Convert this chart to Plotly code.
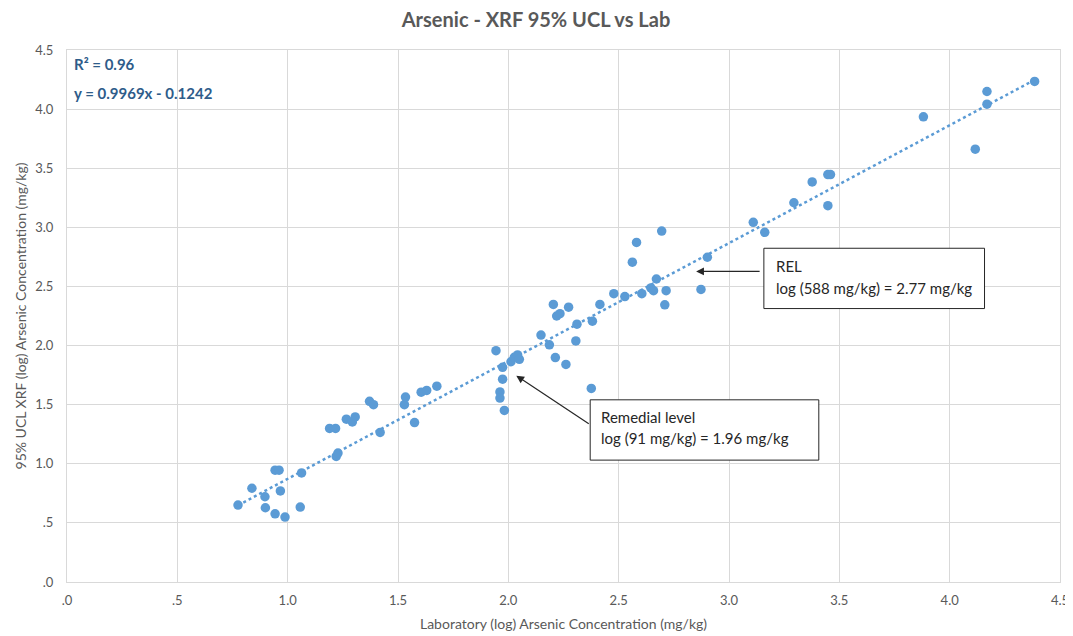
import plotly.graph_objects as go

# Laboratory (log) arsenic concentration
lab_log = [0.775, 0.838, 0.897, 0.899, 0.943, 0.961, 0.967, 0.943, 0.988, 1.057,
           1.063, 1.220, 1.228, 1.190, 1.217, 1.266, 1.293, 1.306, 1.371, 1.389,
           1.419, 1.534, 1.529, 1.575, 1.605, 1.630, 1.676, 1.944, 1.974, 1.974,
           1.962, 1.962, 1.982, 2.012, 2.027, 2.042, 2.050, 2.148, 2.186, 2.213,
           2.261, 2.306, 2.376, 2.204, 2.273, 2.219, 2.234, 2.311, 2.381, 2.415,
           2.478, 2.528, 2.605, 2.646, 2.658, 2.671, 2.715, 2.709, 2.873, 2.695,
           2.581, 2.562, 2.902, 3.110, 3.162, 3.294, 3.377, 3.448, 3.460, 3.448,
           3.881, 4.116, 4.169, 4.169, 4.385]
# XRF 95% UCL (log) arsenic concentration
xrf_log = [0.651, 0.793, 0.721, 0.628, 0.946, 0.946, 0.770, 0.577, 0.549, 0.634,
           0.923, 1.062, 1.091, 1.299, 1.299, 1.377, 1.354, 1.396, 1.528, 1.500,
           1.265, 1.564, 1.500, 1.349, 1.606, 1.620, 1.656, 1.957, 1.816, 1.716,
           1.608, 1.556, 1.451, 1.863, 1.901, 1.921, 1.884, 2.089, 2.006, 1.898,
           1.840, 2.039, 1.637, 2.348, 2.325, 2.250, 2.270, 2.181, 2.206, 2.348,
           2.439, 2.414, 2.439, 2.487, 2.464, 2.563, 2.464, 2.345, 2.475, 2.968,
           2.872, 2.705, 2.747, 3.042, 2.958, 3.208, 3.384, 3.446, 3.446, 3.183,
           3.935, 3.661, 4.149, 4.042, 4.234]

slope = 0.9969
intercept = -0.1242
r2_text = "R² = 0.96"
eq_text = "y = 0.9969x - 0.1242"

tick_vals = [0, 0.5, 1.0, 1.5, 2.0, 2.5, 3.0, 3.5, 4.0, 4.5]
tick_text = [".0", ".5", "1.0", "1.5", "2.0", "2.5", "3.0", "3.5", "4.0", "4.5"]

trend_x = [min(lab_log), max(lab_log)]
trend_y = [slope * v + intercept for v in trend_x]

FONT = "Lato, 'Open Sans', sans-serif"
GRAY = "#595959"
BLUE = "#5B9BD5"

fig = go.Figure()
fig.add_trace(go.Scatter(x=trend_x, y=trend_y, mode="lines",
                         line=dict(color=BLUE, width=2.5, dash="dot"),
                         hoverinfo="skip", showlegend=False))
fig.add_trace(go.Scatter(x=lab_log, y=xrf_log, mode="markers",
                         marker=dict(color=BLUE, size=9.5),
                         showlegend=False, cliponaxis=False))

axis_common = dict(range=[0, 4.5], tickvals=tick_vals, ticktext=tick_text,
                   showgrid=True, gridcolor="#D9D9D9", gridwidth=1,
                   showline=True, linecolor="#D9D9D9", linewidth=1, mirror=True,
                   zeroline=False, ticks="", automargin=False,
                   tickfont=dict(family=FONT, size=13, color=GRAY))

# The page adds an 8px body margin, so the figure is sized to fit the window.
fig.update_layout(
    width=1065, height=628,
    margin=dict(l=59, r=13, t=42, b=54),
    paper_bgcolor="white", plot_bgcolor="white",
    font=dict(family=FONT),
    title=dict(text="<b>Arsenic - XRF 95% UCL vs Lab</b>", x=(536 - 8) / 1065,
               xanchor="center", y=1 - 12 / 628, yanchor="middle", yref="container",
               automargin=False,
               font=dict(family=FONT, size=20, color=GRAY)),
    xaxis=dict(axis_common, ticklabelstandoff=6,
               title=dict(text="Laboratory (log) Arsenic Concentration (mg/kg)",
                          font=dict(family=FONT, size=14, color=GRAY), standoff=12)),
    yaxis=dict(axis_common, ticklabelstandoff=10,
               title=dict(text="95% UCL XRF (log) Arsenic Concentration (mg/kg)",
                          font=dict(family=FONT, size=14, color=GRAY), standoff=5)),
)

# Callout boxes
fig.add_shape(type="rect", x0=3.158, x1=4.158, y0=2.313, y1=2.823,
              line=dict(color="#262626", width=1), fillcolor="white", layer="above")
fig.add_shape(type="rect", x0=2.371, x1=3.407, y0=1.031, y1=1.541,
              line=dict(color="#262626", width=1), fillcolor="white", layer="above")

txt_font = dict(family=FONT, size=15, color="#262626")
annots = [
    dict(x=3.204, y=2.675, text="REL"),
    dict(x=3.204, y=2.490, text="log (588 mg/kg) = 2.77 mg/kg"),
    dict(x=2.412, y=1.394, text="Remedial level"),
    dict(x=2.412, y=1.215, text="log (91 mg/kg) = 1.96 mg/kg"),
]
for a in annots:
    fig.add_annotation(x=a["x"], y=a["y"], text=a["text"], showarrow=False,
                       xanchor="left", yanchor="middle", font=txt_font)

# Arrows
fig.add_annotation(x=2.851, y=2.627, ax=65, ay=0, text="", showarrow=True,
                   arrowhead=2, arrowsize=1.3, arrowwidth=1.2, arrowcolor="#262626",
                   standoff=0)
fig.add_annotation(x=2.036, y=1.745, ax=74, ay=49, text="", showarrow=True,
                   arrowhead=2, arrowsize=1.3, arrowwidth=1.2, arrowcolor="#262626",
                   standoff=0)

# Trendline statistics
stat_font = dict(family=FONT, size=15, color="#2E5C8A")
fig.add_annotation(x=0.022, y=4.385, text="<b>" + r2_text + "</b>", showarrow=False,
                   xanchor="left", yanchor="middle", font=stat_font)
fig.add_annotation(x=0.022, y=4.137, text="<b>" + eq_text + "</b>", showarrow=False,
                   xanchor="left", yanchor="middle", font=stat_font)

fig.write_html("out.html")
